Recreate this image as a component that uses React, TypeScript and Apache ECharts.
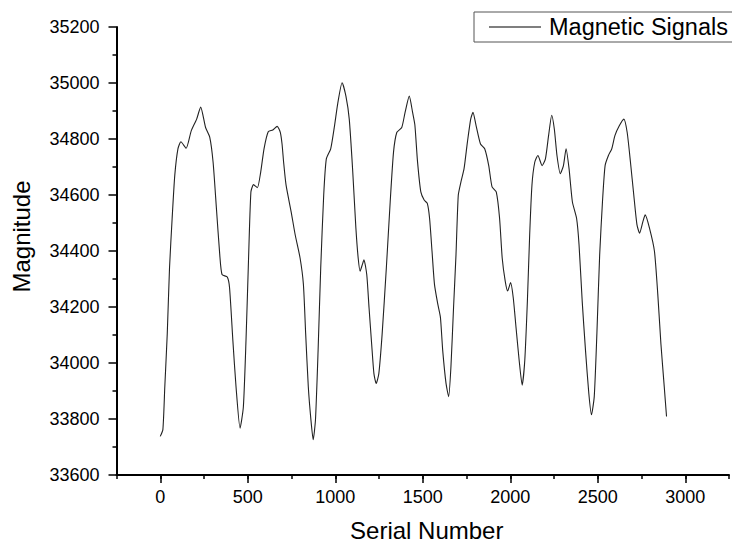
import React, { useEffect, useRef } from "react";
import * as echarts from "echarts";

const serialNumbers: number[] = [
  0, 15, 26, 40, 53, 68, 83, 101, 118, 148, 177, 208, 231, 259, 283, 302, 321, 340, 353, 383,
  396, 415, 433, 456, 475, 490, 503, 518, 533, 555, 574, 593, 617, 643, 668, 686, 696, 705, 719, 748,
  771, 799, 818, 831, 846, 861, 874, 887, 902, 917, 934, 949, 974, 996, 1015, 1039, 1061, 1080, 1099, 1118,
  1131, 1142, 1155, 1164, 1180, 1193, 1208, 1221, 1234, 1249, 1268, 1292, 1314, 1333, 1352, 1380, 1399, 1423, 1442, 1455,
  1470, 1489, 1508, 1526, 1539, 1553, 1567, 1586, 1601, 1614, 1633, 1648, 1661, 1676, 1690, 1703, 1718, 1736, 1755, 1774,
  1787, 1805, 1830, 1854, 1877, 1896, 1920, 1939, 1954, 1971, 1985, 2002, 2017, 2033, 2051, 2068, 2083, 2098, 2111, 2124,
  2140, 2158, 2182, 2201, 2219, 2237, 2252, 2267, 2286, 2304, 2319, 2336, 2355, 2379, 2393, 2411, 2430, 2449, 2464, 2480,
  2495, 2511, 2527, 2542, 2561, 2580, 2598, 2623, 2649, 2668, 2687, 2706, 2724, 2739, 2758, 2771, 2796, 2824, 2843, 2861,
  2880, 2893,
];

const magnitudes: number[] = [
  33738, 33762, 33915, 34104, 34340, 34517, 34670, 34765, 34790, 34767, 34829, 34871, 34914, 34841, 34806, 34717, 34552, 34387, 34316, 34307,
  34269, 34080, 33915, 33767, 33844, 34080, 34340, 34611, 34637, 34626, 34682, 34765, 34826, 34832, 34845, 34824, 34782, 34717, 34635, 34540,
  34458, 34375, 34281, 34104, 33915, 33797, 33726, 33797, 34045, 34340, 34599, 34729, 34765, 34848, 34930, 35001, 34953, 34871, 34694, 34481,
  34375, 34328, 34352, 34369, 34316, 34198, 34068, 33962, 33927, 33962, 34104, 34340, 34576, 34753, 34824, 34841, 34895, 34953, 34895, 34850,
  34720, 34611, 34582, 34570, 34517, 34399, 34281, 34210, 34163, 34045, 33927, 33880, 33986, 34198, 34387, 34599, 34646, 34694, 34788, 34871,
  34895, 34847, 34782, 34765, 34705, 34629, 34611, 34517, 34375, 34293, 34257, 34287, 34234, 34127, 34009, 33921, 34009, 34222, 34458, 34635,
  34717, 34741, 34705, 34729, 34812, 34885, 34835, 34741, 34676, 34705, 34765, 34694, 34576, 34517, 34423, 34222, 34045, 33891, 33815, 33880,
  34104, 34387, 34576, 34705, 34741, 34765, 34812, 34847, 34871, 34824, 34717, 34599, 34494, 34464, 34505, 34529, 34481, 34399, 34246, 34068,
  33915, 33809,
];

const xMajorTicks: number[] = [0, 500, 1000, 1500, 2000, 2500, 3000];
const seriesName = "Magnetic Signals";
const xTitle = "Serial Number";
const yTitle = "Magnitude";

const FONT = "'Liberation Sans', Arial, sans-serif";

export default function App() {
  const ref = useRef<HTMLDivElement>(null);

  useEffect(() => {
    if (!ref.current) return;
    const chart = echarts.init(ref.current, undefined, { renderer: "svg" });
    const data = serialNumbers.map((x, i) => [x, magnitudes[i]]);
    const xMin = -250;
    const xMax = 3250;

    chart.setOption({
      animation: false,
      backgroundColor: "#ffffff",
      textStyle: { fontFamily: FONT },
      grid: { left: 116.5, right: -7.1, top: 27, bottom: 68 },
      legend: {
        show: true,
        left: 474,
        top: 12,
        orient: "horizontal",
        data: [{ name: seriesName, icon: "rect" }],
        itemWidth: 52,
        itemHeight: 1.3,
        itemGap: 0,
        padding: [3, 24, 3, 15],
        borderColor: "#555555",
        borderWidth: 1,
        backgroundColor: "#ffffff",
        itemStyle: { color: "#555555", borderWidth: 0 },
        textStyle: {
          fontFamily: FONT,
          fontSize: 23.5,
          color: "#000000",
          padding: [0, 0, 0, 3],
        },
      },
      xAxis: [
        {
          type: "value",
          min: xMin,
          max: xMax,
          interval: 250,
          position: "bottom",
          name: xTitle,
          nameLocation: "middle",
          nameGap: 43,
          nameTextStyle: { fontFamily: FONT, fontSize: 24, color: "#000000", padding: [0, 0, 0, 8] },
          axisLine: { show: true, onZero: false, lineStyle: { color: "#000000", width: 2 } },
          axisTick: { show: true, length: 4, lineStyle: { color: "#000000", width: 1.5 } },
          axisLabel: {
            show: true,
            margin: 13,
            fontFamily: FONT,
            fontSize: 18,
            color: "#000000",
            formatter: (v: number) => (v >= 0 && v <= 3000 && v % 500 === 0 ? String(v) : ""),
          },
          splitLine: { show: false },
        },
        {
          type: "value",
          min: xMin,
          max: xMax,
          position: "bottom",
          axisLine: { show: false, onZero: false },
          axisTick: {
            show: true,
            length: 8,
            customValues: xMajorTicks,
            lineStyle: { color: "#000000", width: 1.5 },
          },
          axisLabel: { show: false },
          splitLine: { show: false },
        },
      ],
      yAxis: {
        type: "value",
        min: 33600,
        max: 35200,
        interval: 200,
        axisLine: { show: true, onZero: false, lineStyle: { color: "#000000", width: 2 } },
        axisTick: { show: true, length: 8, lineStyle: { color: "#000000", width: 1.5 } },
        minorTick: { show: true, splitNumber: 2, length: 4, lineStyle: { color: "#000000", width: 1.5 } },
        axisLabel: {
          show: true,
          margin: 17,
          fontFamily: FONT,
          fontSize: 18,
          color: "#000000",
          formatter: (v: number) => String(v),
        },
        splitLine: { show: false },
        minorSplitLine: { show: false },
      },
      graphic: [
        {
          type: "text",
          x: 21,
          y: 236.5,
          rotation: Math.PI / 2,
          style: {
            text: yTitle,
            fontFamily: FONT,
            fontSize: 24,
            fill: "#000000",
            align: "center",
            verticalAlign: "middle",
          },
        },
      ],
      series: [
        {
          name: seriesName,
          type: "line",
          xAxisIndex: 0,
          data,
          symbol: "none",
          showSymbol: false,
          smooth: 0.2,
          lineStyle: { color: "#222222", width: 1.1 },
          itemStyle: { color: "#555555" },
        },
      ],
    });

    return () => {
      chart.dispose();
    };
  }, []);

  return (
    <div
      ref={ref}
      style={{ position: "fixed", left: 0, top: 0, width: 732, height: 547, background: "#fff" }}
    />
  );
}
